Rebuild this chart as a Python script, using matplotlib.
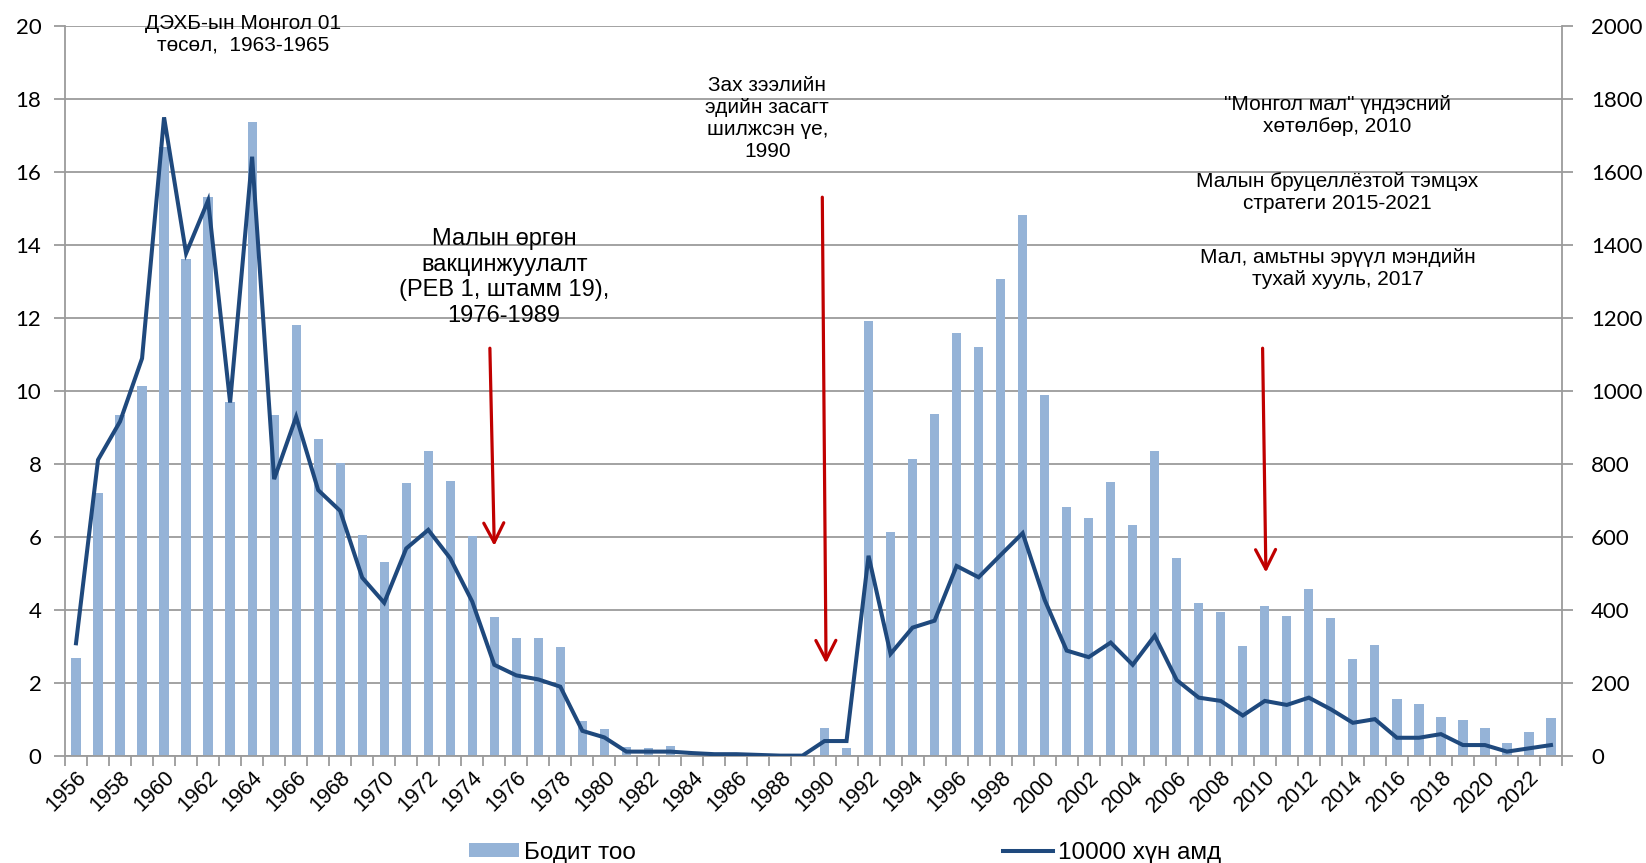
import matplotlib
matplotlib.use("Agg")
import matplotlib.pyplot as plt
import numpy as np
from matplotlib.patches import Patch
from matplotlib.lines import Line2D

plt.rcParams['font.family'] = ['Liberation Sans', 'DejaVu Sans']

years = list(range(1956, 2024))
actual_cases = [270, 720, 935, 1015, 1670, 1362, 1533, 970, 1739, 935,
                1182, 868, 803, 606, 533, 748, 837, 754, 603, 380,
                323, 323, 300, 97, 74, 25, 21, 27, 8, 5,
                5, 3, 2, 2, 76, 21, 1193, 615, 814, 937,
                1159, 1122, 1308, 1482, 991, 684, 652, 750, 633, 836,
                544, 420, 396, 302, 411, 384, 457, 377, 266, 304,
                155, 143, 106, 99, 76, 37, 67, 103]
per_10000 = [3.09, 8.12, 9.17, 10.9, 17.51, 13.78, 15.23, 9.69, 16.43, 7.59,
             9.30, 7.29, 6.72, 4.89, 4.20, 5.69, 6.20, 5.42, 4.23, 2.50,
             2.21, 2.10, 1.90, 0.69, 0.51, 0.12, 0.12, 0.12, 0.08, 0.05,
             0.05, 0.03, 0.01, 0.01, 0.41, 0.41, 5.49, 2.80, 3.52, 3.71,
             5.21, 4.90, 5.51, 6.11, 4.28, 2.89, 2.71, 3.11, 2.50, 3.30,
             2.08, 1.60, 1.51, 1.11, 1.51, 1.40, 1.60, 1.28, 0.91, 1.01,
             0.50, 0.50, 0.60, 0.30, 0.30, 0.12, 0.21, 0.30]
label_bars = "Бодит тоо"
label_line = "10000 хүн амд"

annotations = [
    ("ДЭХБ-ын Монгол 01\nтөсөл,  1963-1965", 1963.6, 19.79, 15),
    ("Малын өргөн\nвакцинжуулалт\n(РЕВ 1, штамм 19),\n1976-1989", 1975.45, 13.12, 17),
    ("Зах зээлийн\nэдийн засагт\nшилжсэн үе,\n1990", 1987.4, 17.47, 15),
    ("\"Монгол мал\" үндэсний\nхөтөлбөр, 2010", 2013.3, 17.55, 15),
    ("Малын бруцеллёзтой тэмцэх\nстратеги 2015-2021", 2013.3, 15.45, 15),
    ("Мал, амьтны эрүүл мэндийн\nтухай хууль, 2017", 2013.3, 13.37, 15),
]
arrows = [  # (x_from, y_from, x_to, y_to) in year / left-axis units
    (1974.8, 11.18, 1975.0, 5.76),
    (1989.9, 15.32, 1990.07, 2.54),
    (2009.9, 11.18, 2010.05, 5.03),
]

bar_color = '#95B3D7'
line_color = '#1F497D'
grid_color = '#9B9B9B'
arrow_color = '#C00000'

fig = plt.figure(figsize=(16.46, 8.63), dpi=100)
ax = fig.add_axes([65/1646, 1-756/863, (1562-65)/1646, (756-26.5)/863])
ax2 = ax.twinx()

x = np.array(years)
ax2.bar(x, actual_cases, width=0.42, color=bar_color, zorder=2)
ax2.set_ylim(0, 2000)
ax2.set_yticks(np.arange(0, 2001, 200))
ax2.grid(axis='y', color=grid_color, lw=1.3)
ax2.set_axisbelow(True)

ax.set_zorder(ax2.get_zorder() + 1)
ax.patch.set_visible(False)
ax.plot(x, per_10000, color=line_color, lw=2.9, solid_joinstyle='miter', zorder=3)
ax.set_ylim(0, 20)
ax.set_yticks(np.arange(0, 21, 2))
ax.set_xlim(years[0] - 0.5, years[-1] + 0.5)

# x ticks: minor at boundaries, labels every 2 years
ax.set_xticks(x[::2])
ax.set_xticklabels([str(y) for y in years[::2]], rotation=45, ha='right',
                   va='top', rotation_mode='anchor', fontsize=15.5)
ax.set_xticks(np.arange(years[0] - 0.5, years[-1] + 1.0, 1.0), minor=True)
ax.tick_params(axis='x', which='major', length=0, pad=8)
ax.tick_params(axis='x', which='minor', length=7, width=1.3, color=grid_color, direction='out')

for a in (ax, ax2):
    for s in a.spines.values():
        s.set_color(grid_color)
        s.set_linewidth(1.3)
    a.spines['top'].set_visible(False)
ax.spines['right'].set_visible(False)
ax2.spines['left'].set_visible(False)
ax2.spines['bottom'].set_visible(False)

ax.tick_params(axis='y', length=8, width=1.3, color=grid_color, pad=9)
ax2.tick_params(axis='y', length=8, width=1.3, color=grid_color, pad=13)
for lab in ax.get_yticklabels() + ax2.get_yticklabels():
    lab.set_fontfamily(['Lato', 'DejaVu Sans'])
    lab.set_fontsize(16)

for txt, xx, yy, fs in annotations:
    ax.text(xx, yy, txt, ha='center', va='center', fontsize=fs,
            linespacing=1.2, color='black', zorder=5)

for x0, y0, x1, y1 in arrows:
    ax.annotate('', xy=(x1, y1), xytext=(x0, y0),
                arrowprops=dict(arrowstyle='->,head_length=0.7,head_width=0.36',
                                color=arrow_color, lw=2.3, shrinkA=0, shrinkB=0,
                                mutation_scale=20), zorder=6)

handles = [Patch(facecolor=bar_color, edgecolor='none'),
           Line2D([], [], color=line_color, lw=2.9)]
fig.legend(handles, [label_bars, label_line], loc='center',
           bbox_to_anchor=(0.5134, 0.012), ncol=2, frameon=False, fontsize=17.5,
           handlelength=2.05, handletextpad=0.22, columnspacing=15.1,
           handleheight=0.5)

fig.savefig('out.png', dpi=100)
